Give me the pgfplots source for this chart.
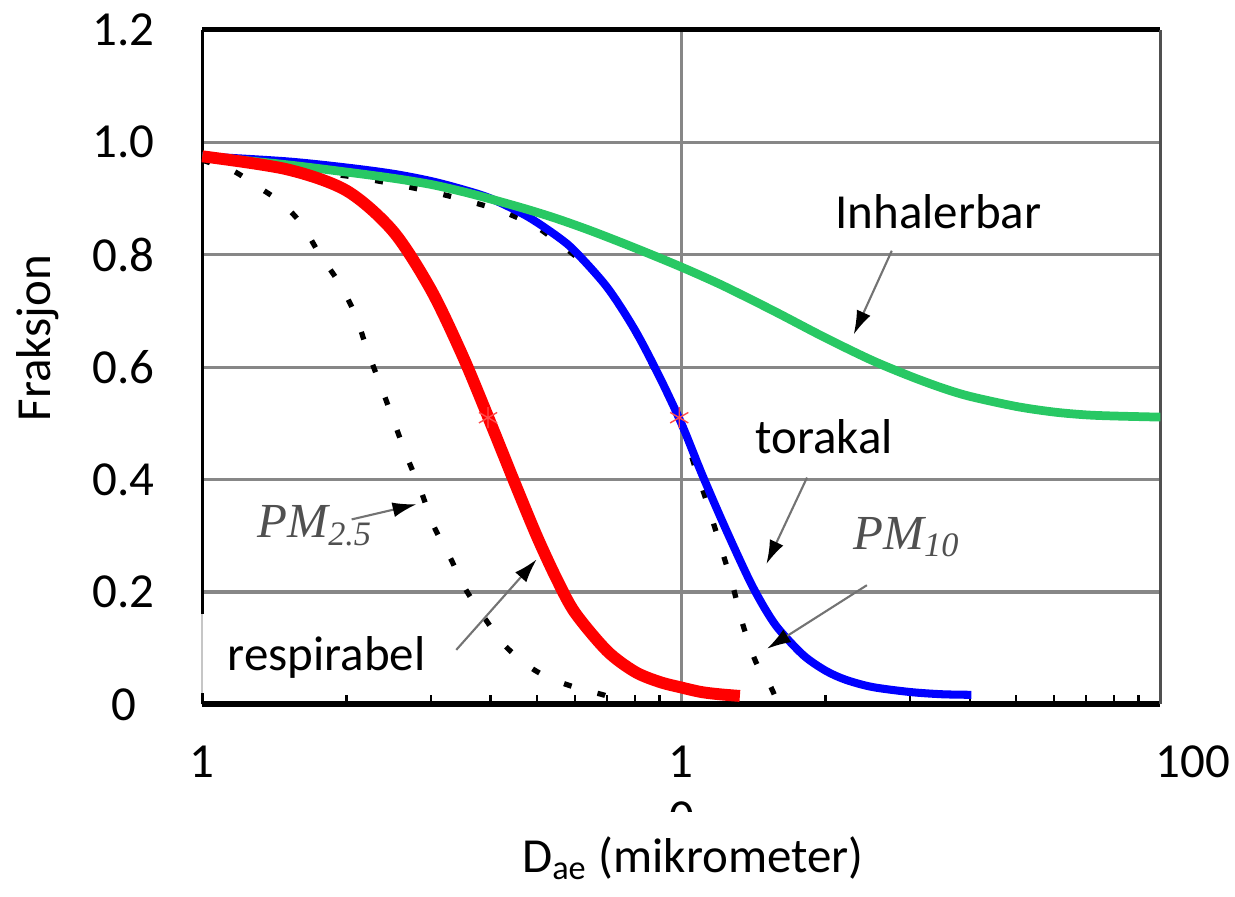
\documentclass[border=0pt]{standalone}
\usepackage{fontspec}
\setmainfont{Carlito}
\newfontfamily\scanserif{Liberation Serif}
\usepackage{pgfplots}
\pgfplotsset{compat=1.18}
\usetikzlibrary{arrows.meta}

\definecolor{inhgreen}{RGB}{40,200,100}
\definecolor{gridgray}{RGB}{135,135,135}
\definecolor{scangray}{RGB}{80,80,80}

\tikzset{pointer/.style={draw=gray!90!black, line width=0.6pt, -{Latex[length=2.4mm,width=1.5mm,black]}}}

\begin{document}
\fontsize{14}{17}\selectfont
\begin{tikzpicture}[font=\fontsize{14}{17}\selectfont]
\begin{axis}[
    scale only axis,
    width=96.3mm, height=67.8mm,
    xmode=log, xmin=1, xmax=100,
    ymin=0, ymax=1.2,
    clip=false,
    axis line style={draw=none},
    xtick={1,10,100},
    xticklabels={1,1,\makebox[0pt][l]{\hspace*{-0.5mm}100}},
    minor xtick={2,3,4,5,6,7,8,9,20,30,40,50,60,70,80,90},
    xtick pos=bottom, tick align=inside,
    major tick length=0pt, minor tick length=0.9mm,
    minor tick style={black, line width=0.7pt},
    ytick={0,0.2,0.4,0.6,0.8,1.0,1.2},
    yticklabels={0,0.2,0.4,0.6,0.8,1.0,1.2},
    ytick style={draw=none},
    /pgf/number format/assume math mode=true,
    xmajorgrids, ymajorgrids,
    grid style={gridgray, line width=0.9pt},
    xticklabel style={anchor=north, inner sep=0pt, yshift=-4.1mm},
    yticklabel style={anchor=center, inner sep=0pt, xshift=-7.9mm},
    xlabel={D\textsubscript{ae} (mikrometer)},
    xlabel style={at={(rel axis cs:0.512,-0.228)}, anchor=center},
    ylabel={Fraksjon},
    ylabel style={at={(rel axis cs:-0.172,0.543)}, anchor=center},
]
% frame
\draw[black, line width=1.5pt] (rel axis cs:0,1) -- (rel axis cs:1,1);
\draw[black, line width=1.7pt] (rel axis cs:0,0) -- (rel axis cs:1,0);
\draw[black, line width=0.9pt] (rel axis cs:0,0) -- (rel axis cs:0,1);
\draw[scangray, line width=0.9pt] (rel axis cs:1,0) -- (rel axis cs:1,1);

% PM2.5 (dotted)
\addplot[black, line width=1.5pt, dash pattern=on 0.8mm off 2.7mm, smooth]
  coordinates {(1,0.968)(1.16,0.949)(1.30,0.922)(1.46,0.893)(1.61,0.855)(1.76,0.800)
  (1.93,0.750)(2.09,0.692)(2.21,0.630)(2.36,0.566)(2.51,0.504)(2.67,0.442)(2.86,0.380)
  (3.04,0.318)(3.31,0.257)(3.55,0.204)(3.91,0.150)(4.30,0.103)(4.82,0.067)(5.33,0.046)
  (6.12,0.028)(6.93,0.016)(7.4,0.005)};
% PM10 (dotted)
\addplot[black, line width=1.5pt, dash pattern=on 0.8mm off 2.7mm, smooth]
  coordinates {(1,0.968)(2,0.940)(3,0.912)(4,0.884)(4.66,0.862)(5.08,0.845)(6.12,0.792)
  (6.99,0.745)(8,0.662)(9,0.578)(10,0.496)(10.69,0.421)(11.27,0.363)(12.04,0.285)
  (12.82,0.209)(13.44,0.142)(14.30,0.076)(15.29,0.035)(15.8,0.008)};

% 50 % markers
\addplot[only marks, mark=asterisk, mark size=3pt, red!70] coordinates {(3.95,0.51)(9.9,0.51)};

% torakal
\addplot[blue, line width=2.3pt, smooth]
  coordinates {(1,0.975)(1.5,0.966)(2,0.955)(2.5,0.944)(3,0.931)(3.5,0.916)(4,0.900)
  (4.75,0.869)(5.5,0.833)(6,0.806)(7,0.742)(8,0.666)(9,0.583)(10,0.500)(11,0.413)
  (12,0.338)(13,0.272)(14,0.214)(15,0.168)(16,0.133)(18,0.087)(20,0.060)(22,0.044)
  (25,0.031)(30,0.022)(35,0.018)(40.3,0.017)};
% inhalerbar
\addplot[inhgreen, line width=2.5pt, smooth]
  coordinates {(1,0.975)(1.5,0.960)(2,0.947)(2.5,0.936)(3,0.925)(3.5,0.912)(4,0.899)
  (4.75,0.881)(5.5,0.864)(6.5,0.842)(8,0.812)(10,0.778)(12,0.748)(14,0.720)(16,0.695)
  (20,0.652)(25,0.612)(30,0.584)(35,0.563)(40,0.548)(50,0.530)(60,0.520)(70,0.515)
  (80,0.513)(100,0.511)};
% respirabel
\addplot[red, line width=3.4pt, smooth]
  coordinates {(1,0.975)(1.5,0.952)(2,0.914)(2.5,0.842)(3,0.738)(3.5,0.619)(4,0.500)
  (4.5,0.392)(5,0.298)(5.5,0.222)(6,0.163)(7,0.095)(8,0.058)(9,0.040)(10,0.030)
  (11,0.022)(12,0.018)(13.25,0.015)};

% annotations
\draw[pointer] (axis cs:27.5,0.807) -- (axis cs:22.9,0.658);
\node at (axis cs:34.4,0.876) {Inhalerbar};
\draw[pointer] (axis cs:18.3,0.4035) -- (axis cs:15.05,0.2496);
\node at (axis cs:19.86,0.476) {torakal};
\draw[pointer] (axis cs:24.4,0.212) -- (axis cs:15.1,0.099);
\node[anchor=base west, inner sep=0pt, text=scangray] at (axis cs:22.8,0.276)
  {\scanserif\itshape PM\textsubscript{10}};
\draw[pointer] (axis cs:2.05,0.329) -- (axis cs:2.80,0.356);
\node[anchor=base west, inner sep=0pt, text=scangray] at (axis cs:1.30,0.296)
  {\scanserif\itshape PM\textsubscript{2.5}};
\fill[white] (axis cs:0.99,0.0195) rectangle (axis cs:3.2,0.161);
\draw[gray!45, line width=0.5pt] (axis cs:1,0.0195) -- (axis cs:1,0.161);
\draw[pointer] (axis cs:3.39,0.097) -- (axis cs:4.99,0.258);
\node at (axis cs:1.818,0.083) {respirabel};

% cut-off second line of the middle tick label
\begin{scope}
  \clip (axis cs:8,-0.170) rectangle (axis cs:13,-0.1912);
  \node[anchor=north, inner sep=0pt] at (axis cs:10.05,-0.1717) {0};
\end{scope}
\end{axis}
\path ([xshift=-19.7mm,yshift=-17.6mm]current axis.south west)
  rectangle ([xshift=7.5mm,yshift=3.0mm]current axis.north east);
\end{tikzpicture}
\end{document}
